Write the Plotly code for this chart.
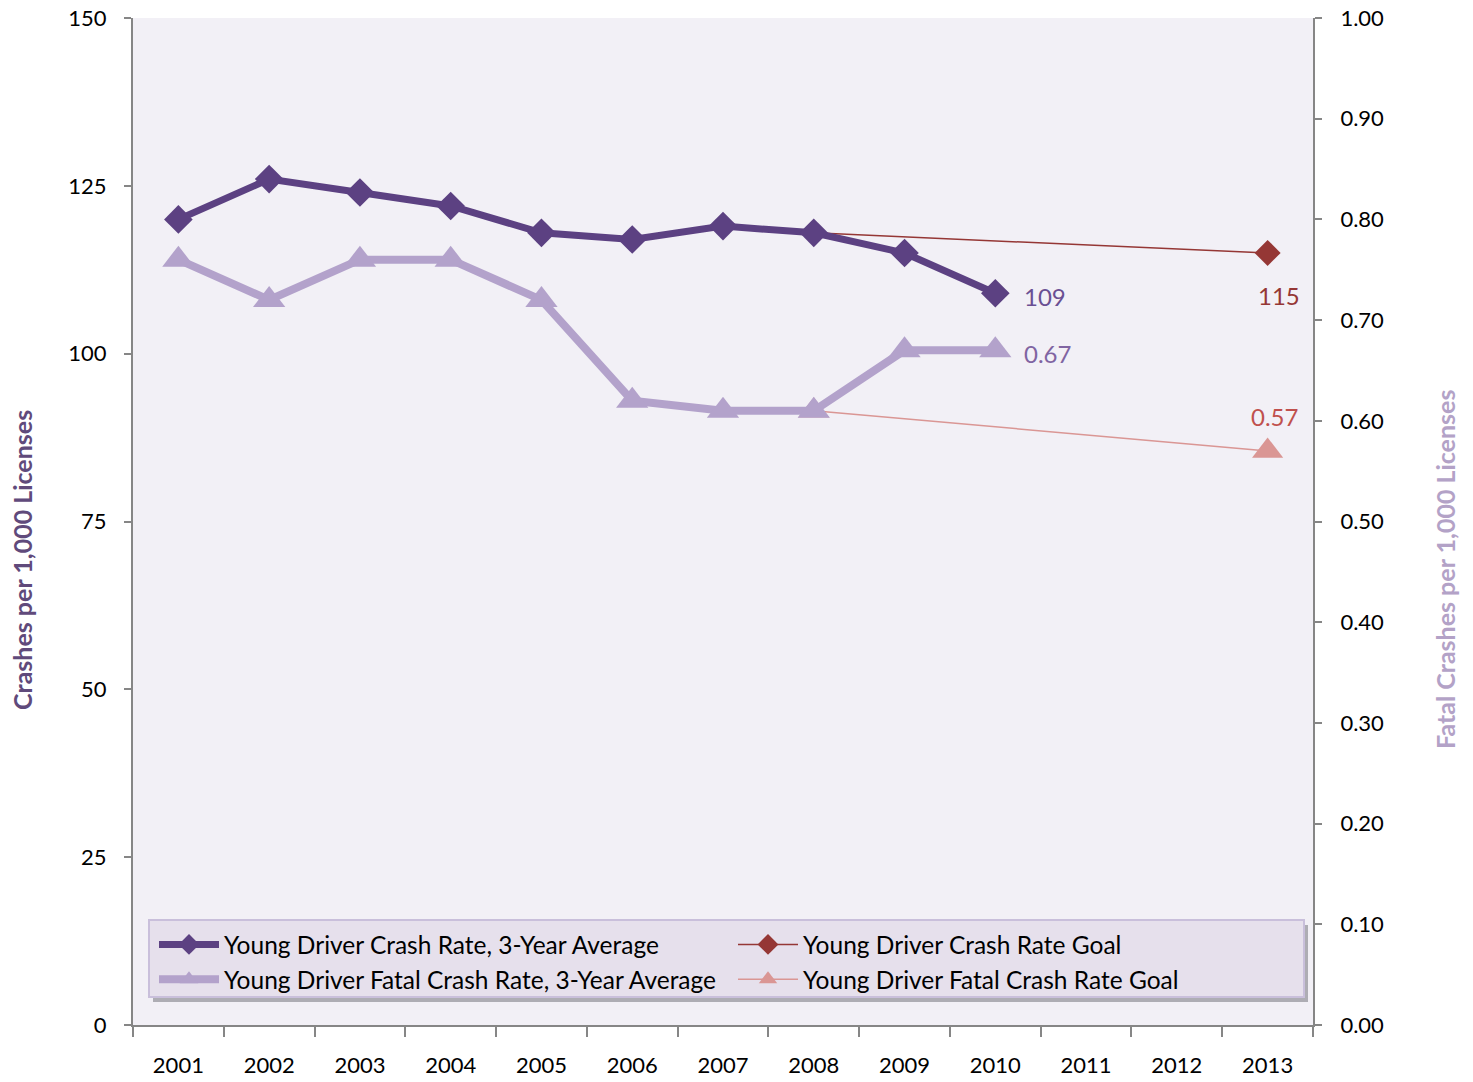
import plotly.graph_objects as go

years = ["2001", "2002", "2003", "2004", "2005", "2006", "2007", "2008", "2009", "2010", "2011", "2012", "2013"]
crash_years = ["2001", "2002", "2003", "2004", "2005", "2006", "2007", "2008", "2009", "2010"]
crash_rate = [120, 126, 124, 122, 118, 117, 119, 118, 115, 109]
fatal_rate = [0.76, 0.72, 0.76, 0.76, 0.72, 0.62, 0.61, 0.61, 0.67, 0.67]
goal_years = ["2008", "2013"]
crash_goal = [118, 115]
fatal_goal = [0.61, 0.57]

FONT = "Lato"
C_CRASH = "#5C4182"
C_FATAL = "#B3A2CB"
C_CGOAL = "#953735"
C_FGOAL = "#DA9694"

fig = go.Figure()

# goal traces first so the actual-series markers cover their starting points
fig.add_trace(go.Scatter(
    x=goal_years, y=crash_goal, name="Young Driver Crash Rate Goal",
    mode="lines+markers", legendrank=2,
    line=dict(color=C_CGOAL, width=1.5),
    marker=dict(symbol="diamond", size=20, color=C_CGOAL),
    yaxis="y",
))
fig.add_trace(go.Scatter(
    x=goal_years, y=fatal_goal, name="Young Driver Fatal Crash Rate Goal",
    mode="lines+markers", legendrank=4,
    line=dict(color=C_FGOAL, width=1.5),
    marker=dict(symbol="triangle-up", size=27, color=C_FGOAL),
    yaxis="y2",
))
fig.add_trace(go.Scatter(
    x=crash_years, y=fatal_rate, name="Young Driver Fatal Crash Rate, 3-Year Average",
    mode="lines+markers", legendrank=3,
    line=dict(color=C_FATAL, width=8),
    marker=dict(symbol="triangle-up", size=28, color=C_FATAL),
    yaxis="y2",
))
fig.add_trace(go.Scatter(
    x=crash_years, y=crash_rate, name="Young Driver Crash Rate, 3-Year Average",
    mode="lines+markers", legendrank=1,
    line=dict(color=C_CRASH, width=7),
    marker=dict(symbol="diamond", size=22, color=C_CRASH),
    yaxis="y",
))

axis_common = dict(
    showline=True, linecolor="#868686", linewidth=2,
    ticks="outside", tickcolor="#868686", tickwidth=2,
    showgrid=False, zeroline=False, automargin=False,
    ticklabeloverflow="allow",
    tickfont=dict(family=FONT, size=22, color="#000000"),
)

# legend box (manual background + shadow)
lx0, lx1 = (149 - 133) / 1180, (1304 - 133) / 1180
ly1, ly0 = (1025 - 920) / 1007, (1025 - 997) / 1007
fig.add_shape(type="rect", xref="paper", yref="paper",
              x0=lx0 + 4 / 1180, x1=lx1 + 4 / 1180, y0=ly0 - 5 / 1007, y1=ly1 - 5 / 1007,
              fillcolor="rgba(90,90,100,0.45)", line=dict(width=0), layer="above")
fig.add_shape(type="rect", xref="paper", yref="paper",
              x0=lx0, x1=lx1, y0=ly0, y1=ly1,
              fillcolor="#E6E0EC", line=dict(color="#C9BFDB", width=2), layer="above")

last_idx = years.index(crash_years[-1])
goal_idx = years.index(goal_years[-1])
annotations = [
    dict(text=f"{crash_rate[-1]}", x=last_idx, y=crash_rate[-1], xref="x", yref="y",
         xanchor="left", yanchor="middle", xshift=27, yshift=-3, showarrow=False,
         font=dict(family=FONT, size=24, color="#6A4F93")),
    dict(text=f"{fatal_rate[-1]:.2f}", x=last_idx, y=fatal_rate[-1], xref="x", yref="y2",
         xanchor="left", yanchor="middle", xshift=27, yshift=-3, showarrow=False,
         font=dict(family=FONT, size=24, color="#8064A2")),
    dict(text=f"{crash_goal[-1]}", x=goal_idx, y=crash_goal[-1], xref="x", yref="y",
         xanchor="center", yanchor="middle", xshift=11, yshift=-43, showarrow=False,
         font=dict(family=FONT, size=24, color=C_CGOAL)),
    dict(text=f"{fatal_goal[-1]:.2f}", x=goal_idx, y=fatal_goal[-1], xref="x", yref="y2",
         xanchor="center", yanchor="middle", xshift=7, yshift=35, showarrow=False,
         font=dict(family=FONT, size=24, color="#C0504D")),
    dict(text="<b>Crashes per 1,000 Licenses</b>", xref="paper", yref="paper",
         x=(22 - 133) / 1180, y=(1025 - 560) / 1007, textangle=-90, showarrow=False,
         xanchor="center", yanchor="middle",
         font=dict(family=FONT, size=25, color="#604A7B")),
    dict(text="<b>Fatal Crashes per 1,000 Licenses</b>", xref="paper", yref="paper",
         x=(1445 - 133) / 1180, y=(1025 - 570) / 1007, textangle=-90, showarrow=False,
         xanchor="center", yanchor="middle",
         font=dict(family=FONT, size=25, color="#B3A2C7")),
]

fig.update_layout(
    width=1473, height=1082,
    margin=dict(l=125, r=168, t=10, b=65, autoexpand=False),
    paper_bgcolor="white",
    plot_bgcolor="#F2F0F6",
    font=dict(family=FONT, size=22, color="#000000"),
    xaxis=dict(
        type="category", categoryorder="array", categoryarray=years,
        range=[-0.5, 12.5], tickson="boundaries", ticklen=10,
        ticklabelstandoff=20,
        **axis_common,
    ),
    yaxis=dict(
        range=[0, 150], dtick=25, ticklen=7, ticklabelstandoff=13,
        **axis_common,
    ),
    yaxis2=dict(
        range=[0, 1], dtick=0.1, tickformat=".2f", ticklen=7, ticklabelstandoff=14,
        overlaying="y", side="right",
        **axis_common,
    ),
    showlegend=True,
    legend=dict(
        orientation="h", x=(154 - 133) / 1180, y=(1025 - 922) / 1007,
        xanchor="left", yanchor="top",
        bgcolor="rgba(0,0,0,0)", borderwidth=0,
        entrywidth=504, itemwidth=60, tracegroupgap=0,
        font=dict(family=FONT, size=24.5, color="#000000"),
    ),
    annotations=annotations,
)

fig.write_html("out.html")
